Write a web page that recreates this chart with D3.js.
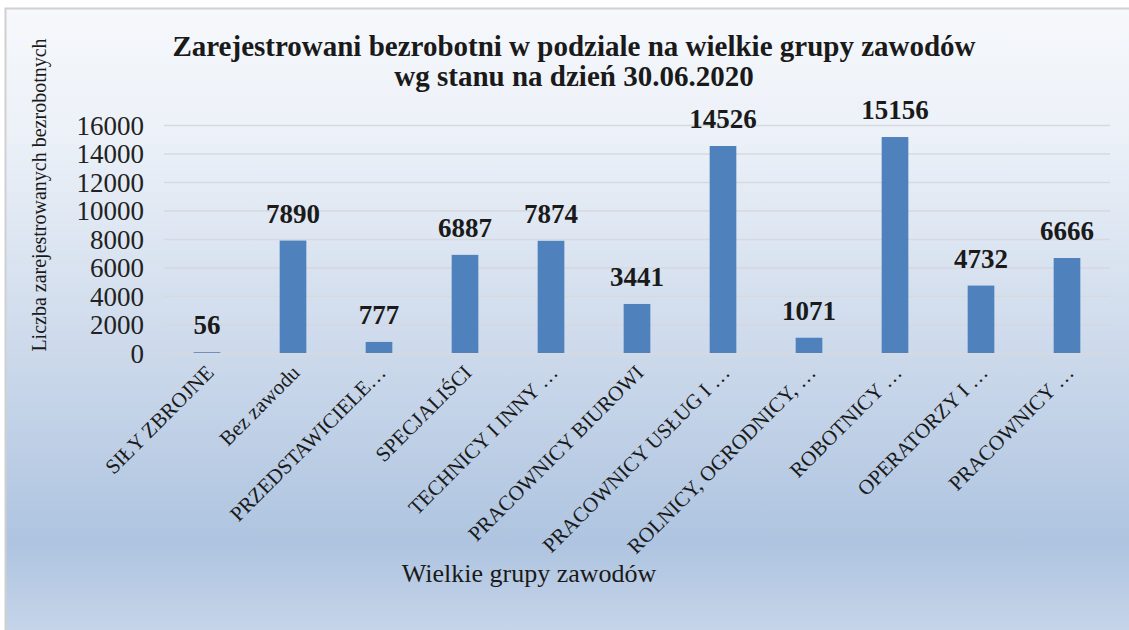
<!DOCTYPE html>
<html>
<head>
<meta charset="utf-8">
<script src="https://cdn.jsdelivr.net/npm/d3@7"></script>
<style>
  body { margin: 0; background: #fff; }
  text { font-family: "Liberation Serif", serif; }
</style>
</head>
<body>
<div id="chart"></div>
<script>
// data
var categories = ["SIŁY ZBROJNE", "Bez zawodu", "PRZEDSTAWICIELE…", "SPECJALIŚCI", "TECHNICY I INNY …",
  "PRACOWNICY BIUROWI", "PRACOWNICY USŁUG I …", "ROLNICY, OGRODNICY, …", "ROBOTNICY …", "OPERATORZY I …", "PRACOWNICY …"];
var values = [56, 7890, 777, 6887, 7874, 3441, 14526, 1071, 15156, 4732, 6666];
var yTicks = [0, 2000, 4000, 6000, 8000, 10000, 12000, 14000, 16000];
var titleLines = ["Zarejestrowani bezrobotni w podziale na wielkie grupy zawodów", "wg stanu na dzień 30.06.2020"];

var W = 1129, H = 630;
var margin = {top: 125, right: 19, bottom: 277, left: 164};
var width = W - margin.left - margin.right,
    height = H - margin.top - margin.bottom;

var svg = d3.select("#chart")
  .append("svg")
  .attr("width", W)
  .attr("height", H);

// background gradient, like the office chart area
var defs = svg.append("defs");
var grad = defs.append("linearGradient")
  .attr("id", "bg").attr("x1", 0).attr("y1", 0).attr("x2", 0).attr("y2", 1);
grad.append("stop").attr("offset", "0%").attr("stop-color", "#f6f8fb");
grad.append("stop").attr("offset", "20%").attr("stop-color", "#ecf1f8");
grad.append("stop").attr("offset", "55%").attr("stop-color", "#ccd9eb");
grad.append("stop").attr("offset", "85%").attr("stop-color", "#aec4e0");
grad.append("stop").attr("offset", "100%").attr("stop-color", "#c8d6ea");

svg.append("rect")
  .attr("x", 5.5).attr("y", 8.5)
  .attr("width", W).attr("height", H)
  .attr("fill", "url(#bg)")
  .attr("stroke", "#d0d0d0")
  .attr("stroke-width", 2);

var g = svg.append("g")
  .attr("transform", "translate(" + margin.left + "," + margin.top + ")");

var x = d3.scaleBand()
  .domain(categories)
  .range([0, width])
  .paddingInner(0.69)
  .paddingOuter(0.345);

var y = d3.scaleLinear()
  .domain([0, 16000])
  .range([height, 0]);

// gridlines + y labels
var yAxis = g.append("g")
  .call(d3.axisLeft(y).tickValues(yTicks).tickSize(-width).tickPadding(20).tickFormat(d3.format("d")));
yAxis.select(".domain").remove();
yAxis.selectAll(".tick line").attr("stroke", "#d6d9dd").attr("stroke-width", 1.5);
yAxis.selectAll(".tick text")
  .attr("fill", "#222")
  .style("font-size", "27px")
  .attr("dy", "0.35em");

// bars
g.selectAll(".bar")
  .data(values)
  .enter()
  .append("rect")
  .attr("class", "bar")
  .attr("x", function(d, i) { return x(categories[i]); })
  .attr("y", function(d) { return y(d); })
  .attr("width", x.bandwidth())
  .attr("height", function(d) { return height - y(d); })
  .attr("fill", "#4f81bd");

// value labels
g.selectAll(".val")
  .data(values)
  .enter()
  .append("text")
  .attr("class", "val")
  .attr("x", function(d, i) { return x(categories[i]) + x.bandwidth() / 2; })
  .attr("y", function(d) { return y(d) - 18; })
  .attr("text-anchor", "middle")
  .style("font-size", "27px")
  .style("font-weight", "bold")
  .attr("fill", "#1a1a1a")
  .text(function(d) { return d; });

// category labels, rotated
g.selectAll(".cat")
  .data(categories)
  .enter()
  .append("text")
  .attr("class", "cat")
  .attr("text-anchor", "end")
  .attr("transform", function(d) {
    return "translate(" + (x(d) + x.bandwidth() / 2 + 8) + "," + (height + 21) + ") rotate(-45)";
  })
  .style("font-size", "21px")
  .attr("fill", "#1a1a1a")
  .text(function(d) { return d; });

// title
svg.selectAll(".title")
  .data(titleLines)
  .enter()
  .append("text")
  .attr("class", "title")
  .attr("x", 574)
  .attr("y", function(d, i) { return 56 + i * 30; })
  .attr("text-anchor", "middle")
  .style("font-size", "29px")
  .style("font-weight", "bold")
  .attr("fill", "#1a1a1a")
  .text(function(d) { return d; });

// axis titles
svg.append("text")
  .attr("transform", "translate(46,195) rotate(-90)")
  .attr("text-anchor", "middle")
  .style("font-size", "20px")
  .attr("fill", "#1a1a1a")
  .text("Liczba zarejestrowanych bezrobotnych");

svg.append("text")
  .attr("x", 529)
  .attr("y", 582)
  .attr("text-anchor", "middle")
  .style("font-size", "26px")
  .attr("fill", "#1a1a1a")
  .text("Wielkie grupy zawodów");
</script>
</body>
</html>
